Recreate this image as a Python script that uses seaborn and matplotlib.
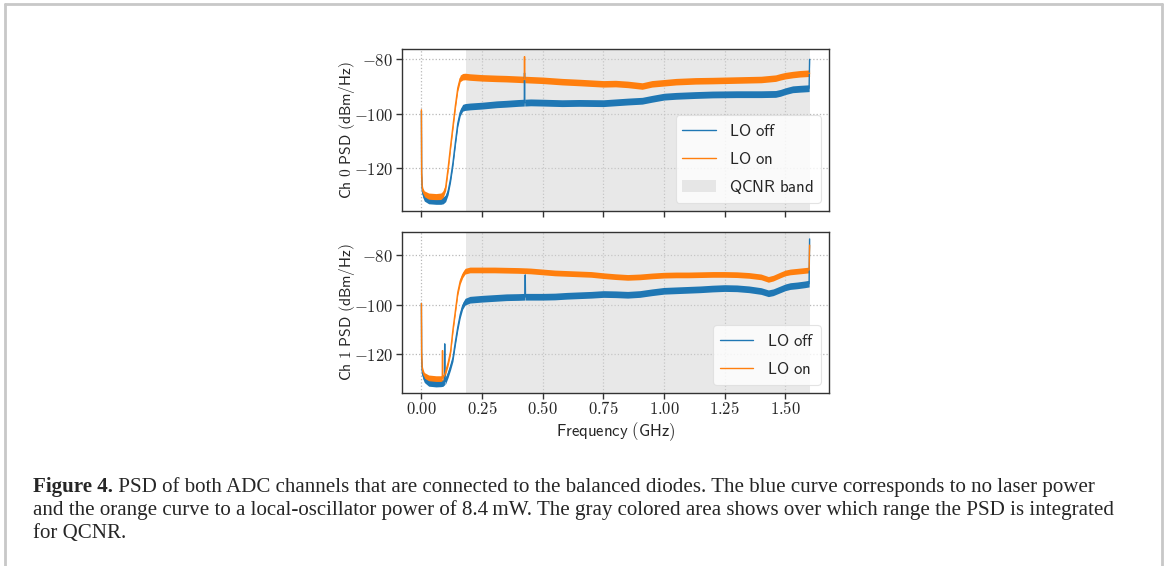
import matplotlib
matplotlib.use("Agg")
import seaborn as sns
from matplotlib import pyplot as plt
from matplotlib.lines import Line2D
from matplotlib.ticker import FuncFormatter

# values (GHz, dBm/Hz)
freq_ch0 = [0.0, 0.001, 0.003, 0.006, 0.012, 0.03, 0.06, 0.08, 0.09, 0.10, 0.11, 0.12,
            0.13, 0.14, 0.15, 0.16, 0.17, 0.18, 0.20, 0.25, 0.31, 0.35, 0.40, 0.424,
            0.425, 0.426, 0.45, 0.50, 0.58, 0.65, 0.75, 0.80, 0.85, 0.91, 0.95, 1.00,
            1.05, 1.13, 1.20, 1.30, 1.40, 1.46, 1.48, 1.50, 1.53, 1.56, 1.598, 1.6]
lo_off_ch0 = [-99, -123, -127.5, -129.5, -130.8, -131.8, -132, -132, -131.8, -131, -128.5, -124,
              -118, -110.5, -103.5, -99.5, -97.8, -97.5, -97.3, -97.0, -96.5, -96.3, -96.0, -95.9,
              -85, -95.9, -95.8, -95.9, -96.1, -96.0, -96.1, -95.8, -95.5, -95.2, -94.5, -93.7,
              -93.4, -93.1, -92.9, -92.8, -92.8, -92.7, -92.3, -91.7, -91.0, -90.8, -90.6, -80]
lo_on_ch0 = [-98.5, -122, -126.5, -128.5, -129.5, -130.3, -130.5, -130.3, -129.5, -127, -120, -112,
             -104.5, -97, -90.5, -87, -86.4, -86.3, -86.5, -86.8, -87.0, -87.1, -87.3, -87.4,
             -79, -87.4, -87.5, -87.7, -88.2, -88.5, -89.0, -88.9, -89.2, -89.8, -89.0, -88.6,
             -88.2, -87.9, -87.8, -87.6, -87.4, -86.9, -86.4, -86.0, -85.6, -85.3, -85.1, -85.1]

freq_ch1 = [0.0, 0.001, 0.003, 0.006, 0.012, 0.03, 0.06, 0.08, 0.086, 0.087, 0.088, 0.095,
            0.096, 0.097, 0.10, 0.11, 0.12, 0.13, 0.14, 0.15, 0.16, 0.17, 0.18, 0.20,
            0.25, 0.30, 0.35, 0.40, 0.427, 0.428, 0.429, 0.45, 0.50, 0.55, 0.60, 0.65,
            0.70, 0.75, 0.80, 0.85, 0.90, 0.95, 1.00, 1.05, 1.10, 1.15, 1.20, 1.25,
            1.30, 1.35, 1.40, 1.43, 1.45, 1.48, 1.50, 1.52, 1.55, 1.58, 1.598, 1.6]
lo_off_ch1 = [-99.5, -122, -126.5, -128.5, -130, -131.5, -131.8, -131.7, -131.6, -131.6, -131.6, -131,
              -115.8, -131, -130.5, -128, -125, -121.5, -115, -109, -104, -100.5, -98.8, -98.0,
              -97.6, -97.3, -97.0, -96.9, -96.8, -88.0, -96.8, -96.8, -96.8, -96.7, -96.4, -96.2,
              -96.0, -95.7, -95.8, -96.0, -95.7, -95.0, -94.4, -94.2, -94.0, -93.8, -93.5, -93.3,
              -93.4, -93.8, -94.5, -95.4, -95.0, -93.8, -93.0, -92.5, -92.2, -91.8, -91.5, -73.5]
lo_on_ch1 = [-99.5, -120, -125, -127, -128.5, -129.5, -129.8, -129.8, -129.5, -118.5, -129.5, -128.5,
             -128.2, -128, -127, -123.5, -119, -110, -102.5, -95, -90.5, -88, -86.5, -86.0,
             -86.0, -86.0, -86.1, -86.2, -86.3, -86.3, -86.3, -86.4, -86.8, -87.2, -87.4, -87.6,
             -87.8, -88.3, -88.7, -89.0, -88.8, -88.4, -88.1, -88.0, -88.0, -87.9, -87.8, -87.8,
             -87.9, -88.2, -88.8, -89.8, -89.3, -88.0, -87.2, -86.8, -86.5, -86.2, -86.0, -76]

qcnr_band = (0.182, 1.6)
x_ticks = [0.0, 0.25, 0.5, 0.75, 1.0, 1.25, 1.5]
y_ticks = [-80, -100, -120]

caption_head = "Figure 4."
caption_lines = [
    " PSD of both ADC channels that are connected to the balanced diodes. The blue curve corresponds to no laser power",
    "and the orange curve to a local-oscillator power of 8.4\u2009mW. The gray colored area shows over which range the PSD is integrated",
    "for QCNR.",
]

BLUE, ORANGE = "#1f77b4", "#ff7f0e"
W, H = 1165, 566

sns.set_style("ticks")
plt.rcParams["mathtext.fontset"] = "cm"
plt.rcParams["font.family"] = ["DejaVu Sans"]

fig = plt.figure(figsize=(W / 100, H / 100), dpi=100)
ax0 = fig.add_axes([402 / W, 1 - 211 / H, 427 / W, 162 / H])
ax1 = fig.add_axes([402 / W, 1 - 393 / H, 427 / W, 161 / H], sharex=ax0)


def draw_panel(ax, freq, off, on, hw_off, hw_on, band_label):
    ax.fill_between(freq, [v - hw_off for v in off], [v + hw_off for v in off],
                    color=BLUE, lw=0, zorder=1)
    ax.fill_between(freq, [v - hw_on for v in on], [v + hw_on for v in on],
                    color=ORANGE, lw=0, zorder=1.1)
    sns.lineplot(x=freq, y=off, ax=ax, color=BLUE, lw=1.0, sort=False, estimator=None,
                 label=r"$\mathsf{LO\ off}$")
    sns.lineplot(x=freq, y=on, ax=ax, color=ORANGE, lw=1.0, sort=False, estimator=None,
                 label=r"$\mathsf{LO\ on}$")
    ax.axvspan(*qcnr_band, color="lightgray", alpha=0.5, lw=0, zorder=0.8,
               label=band_label)
    ax.grid(True, ls=":", color="#b8b8b8", lw=0.9)
    ax.set_axisbelow(True)
    ax.set_yticks(y_ticks)
    ax.yaxis.set_major_formatter(FuncFormatter(lambda v, p: r"$%d$" % v))
    ax.tick_params(labelsize=12, length=4, width=1, color="#333333", pad=2.5)
    ax.tick_params(axis="x", pad=1)
    for s in ax.spines.values():
        s.set_color("#333333")
        s.set_linewidth(1.0)
    leg = ax.legend(loc="lower right", fontsize=12, labelspacing=0.6, handlelength=2.0,
                    framealpha=0.8, edgecolor="#dddddd", fancybox=True)
    leg.get_frame().set_linewidth(0.8)


draw_panel(ax0, freq_ch0, lo_off_ch0, lo_on_ch0, 1.25, 1.2, r"$\mathsf{QCNR\ band}$")
draw_panel(ax1, freq_ch1, lo_off_ch1, lo_on_ch1, 1.35, 1.15, None)

ax0.set_xlim(-0.08, 1.68)
ax0.set_ylim(-135.7, -76.2)
ax1.set_ylim(-135.6, -70.7)
ax0.set_xticks(x_ticks)
ax1.xaxis.set_major_formatter(FuncFormatter(lambda v, p: r"$%.2f$" % v))
ax0.tick_params(labelbottom=False)
ax0.set_ylabel(r"$\mathsf{Ch\ 0\ PSD\ (dBm/Hz)}$", fontsize=11.2, labelpad=-2)
ax1.set_ylabel(r"$\mathsf{Ch\ 1\ PSD\ (dBm/Hz)}$", fontsize=11.2, labelpad=-2)
ax1.set_xlabel(r"$\mathsf{Frequency\ (GHz)}$", fontsize=12, labelpad=1.5)
ax0.set_xlabel("")

# page frame around the figure
for xs, ys in [((4.5, 4.5), (0, H - 3.5)), ((4.5, 1161.5), (H - 3.5, H - 3.5)),
               ((1161.5, 1161.5), (0, H - 3.5))]:
    fig.add_artist(Line2D([x / W for x in xs], [y / H for y in ys],
                          transform=fig.transFigure, color="#c8c8c8", lw=2))

# caption
cap_font = dict(family=["Liberation Serif", "DejaVu Serif"], fontsize=15.1, va="baseline")
baselines = [492, 515, 538]
head = fig.text(33 / W, 1 - baselines[0] / H, caption_head, fontweight="bold", **cap_font)
fig.canvas.draw()
bb = head.get_window_extent()
fig.text(bb.x1 / W, 1 - baselines[0] / H, caption_lines[0], **cap_font)
for line, yb in zip(caption_lines[1:], baselines[1:]):
    fig.text(33 / W, 1 - yb / H, line, **cap_font)

fig.savefig("out.png", dpi=100)
